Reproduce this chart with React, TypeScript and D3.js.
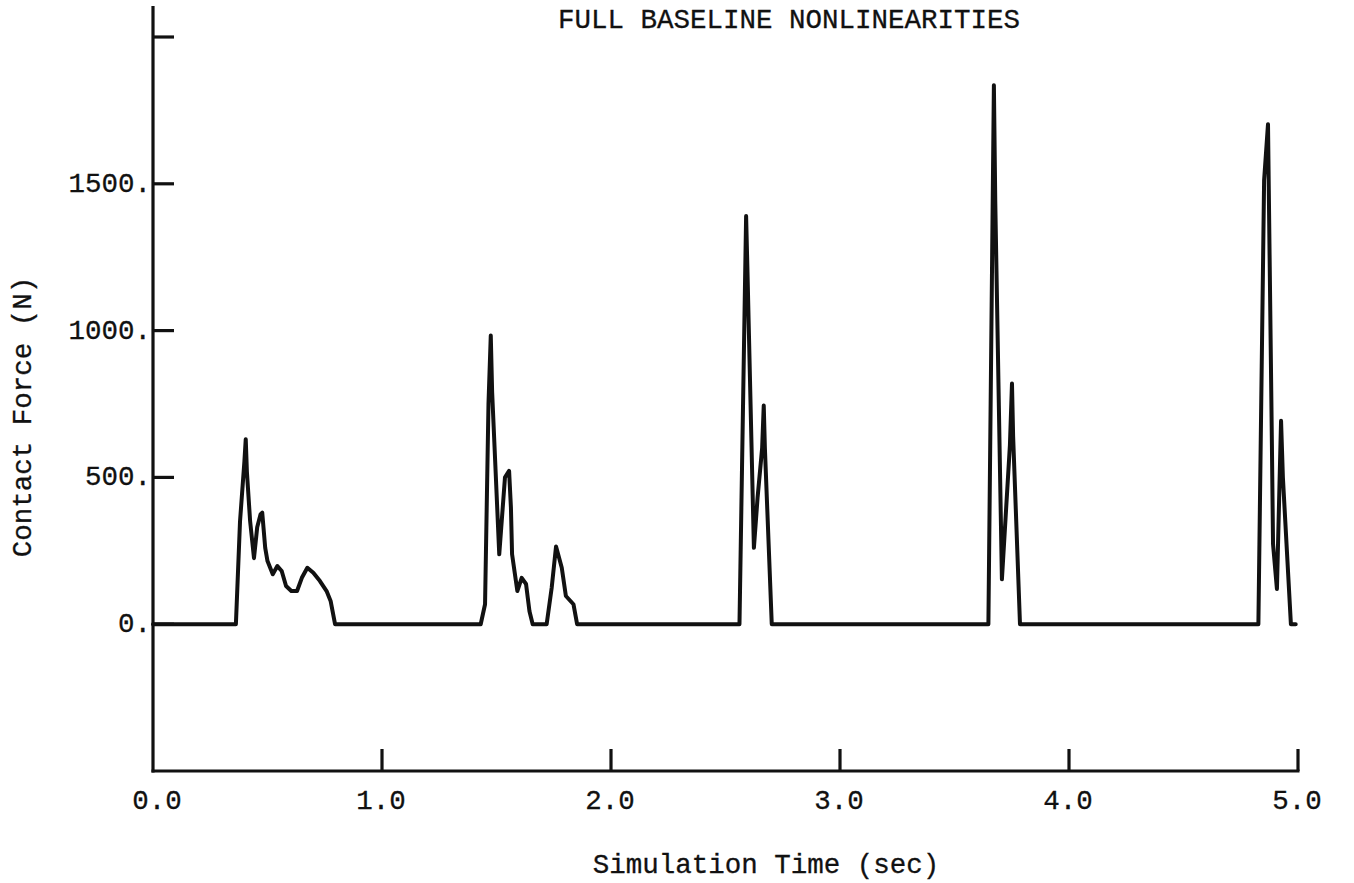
import React from "react";
import * as d3 from "d3";

const TITLE = "FULL BASELINE NONLINEARITIES";
const X_LABEL = "Simulation Time (sec)";
const Y_LABEL = "Contact Force (N)";

const xTicks = [0, 1, 2, 3, 4, 5];
const xTickLabels = ["0.0", "1.0", "2.0", "3.0", "4.0", "5.0"];
const yTicks = [0, 500, 1000, 1500, 2000];
const yTickLabels = ["0.", "500.", "1000.", "1500.", ""];

const time = [
  0.0, 0.362, 0.38, 0.399, 0.405, 0.41, 0.424, 0.441, 0.455, 0.47, 0.477, 0.49, 0.5, 0.523,
  0.543, 0.562, 0.581, 0.604, 0.629, 0.65, 0.674, 0.7, 0.729, 0.758, 0.776, 0.795,
  1.431, 1.45, 1.465, 1.475, 1.481, 1.512, 1.537, 1.555, 1.563, 1.568, 1.591, 1.61, 1.629,
  1.644, 1.658, 1.719, 1.741, 1.76, 1.785, 1.803, 1.836, 1.852,
  2.561, 2.59, 2.596, 2.624, 2.64, 2.66, 2.667, 2.672, 2.702,
  3.648, 3.672, 3.678, 3.707, 3.742, 3.751, 3.756, 3.786,
  4.827, 4.852, 4.869, 4.886, 4.891, 4.908, 4.926, 4.934, 4.969, 4.99,
];
const force = [
  0, 0, 350, 553, 630, 520, 352, 225, 330, 375, 380, 260, 215, 170,
  198, 181, 130, 113, 113, 158, 192, 175, 147, 113, 78, 0,
  0, 68, 751, 983, 790, 238, 500, 522, 397, 238, 113, 158, 137,
  44, 0, 0, 124, 265, 192, 96, 68, 0,
  0, 1390, 1200, 260, 430, 600, 745, 600, 0,
  0, 1836, 1440, 153, 610, 820, 640, 0,
  0, 1512, 1703, 614, 273, 120, 693, 500, 0, 0,
];

const W = 1354;
const H = 883;

export default function App() {
  const x = d3.scaleLinear().domain([0, 5]).range([153, 1298]);
  const y = d3.scaleLinear().domain([-500, 2000]).range([771, 37]);
  const pts = time.map((t, i) => [t, force[i]] as [number, number]);
  const line = d3
    .line<[number, number]>()
    .x((d) => x(d[0]))
    .y((d) => y(d[1]))
    .curve(d3.curveLinear);

  const font = {
    fontFamily: "'Liberation Mono', 'Courier New', monospace",
    fontSize: 27.5,
    fill: "#111",
    stroke: "#111",
    strokeWidth: 0.3,
  } as const;

  return (
    <svg
      width={W}
      height={H}
      style={{ position: "absolute", left: 0, top: 0, background: "#fff" }}
    >
      <rect x={0} y={0} width={W} height={H} fill="#fff" />
      <text x={558} y={28} {...font} textAnchor="start">
        {TITLE}
      </text>
      <line x1={x(0)} x2={x(0)} y1={y(2106)} y2={y(-500) + 1.5} stroke="#111" strokeWidth={3.2} />
      <line x1={x(0) - 1.5} x2={x(5) + 1.5} y1={y(-500)} y2={y(-500)} stroke="#111" strokeWidth={3.2} />
      {yTicks.map((v, i) => (
        <g key={"y" + v}>
          <line x1={x(0)} x2={x(0) + 21} y1={y(v)} y2={y(v)} stroke="#111" strokeWidth={3.2} />
          {yTickLabels[i] && (
            <text x={151} y={y(v) + 8} textAnchor="end" {...font}>
              {yTickLabels[i]}
            </text>
          )}
        </g>
      ))}
      {xTicks.map((v, i) => (
        <g key={"x" + v}>
          {v > 0 && (
            <line x1={x(v)} x2={x(v)} y1={y(-500)} y2={y(-500) - 22} stroke="#111" strokeWidth={3.2} />
          )}
          <text x={x(v) + (v === 0 ? 4 : -1)} y={809} textAnchor="middle" {...font}>
            {xTickLabels[i]}
          </text>
        </g>
      ))}
      <text x={766} y={873} textAnchor="middle" {...font}>
        {X_LABEL}
      </text>
      <text transform={`translate(31, 417) rotate(-90)`} textAnchor="middle" {...font}>
        {Y_LABEL}
      </text>
      <path
        d={line(pts) ?? ""}
        fill="none"
        stroke="#111"
        strokeWidth={4}
        strokeLinejoin="round"
        strokeLinecap="round"
      />
    </svg>
  );
}
